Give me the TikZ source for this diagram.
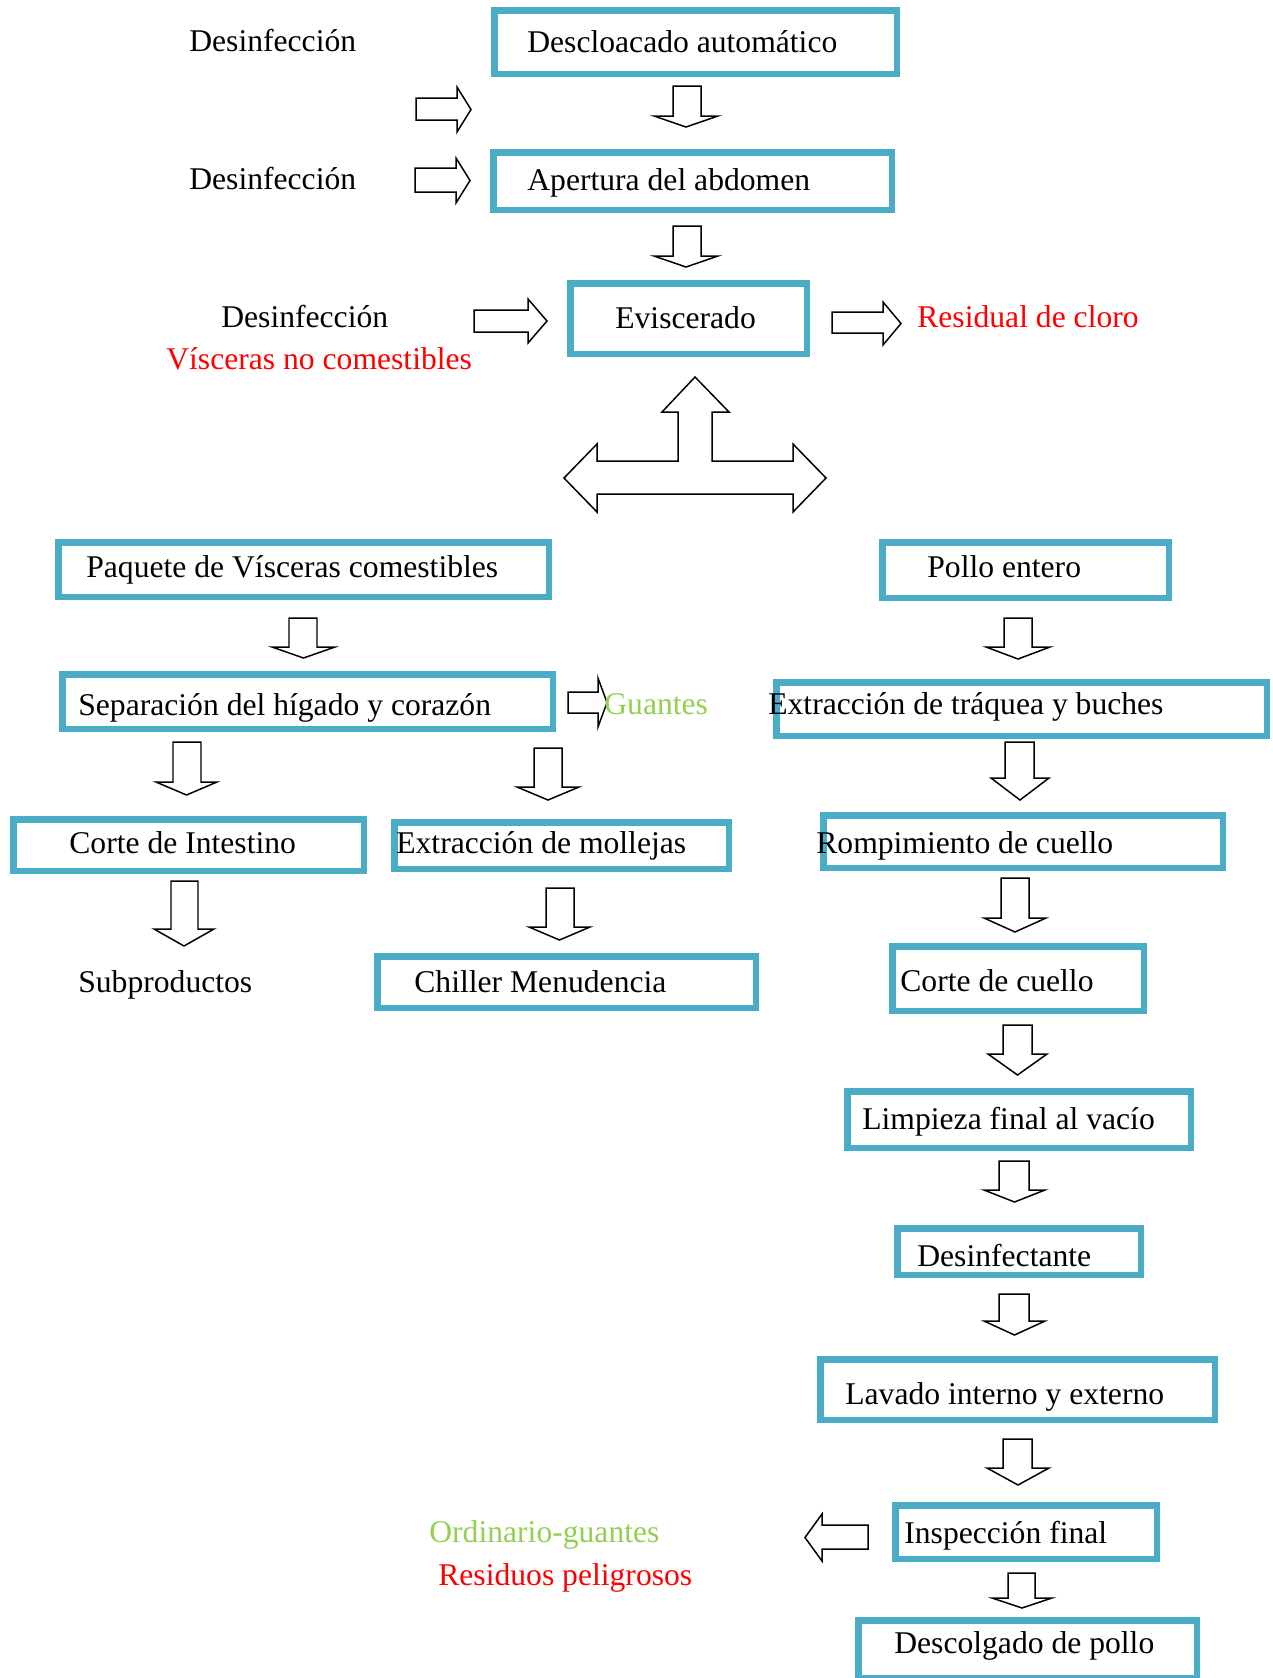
\documentclass[tikz,border=0pt]{standalone}
\usepackage{fontspec}
\setmainfont{Liberation Serif}
\begin{document}
\definecolor{boxteal}{HTML}{4BACC6}
\definecolor{okgreen}{HTML}{92D050}
\definecolor{alertred}{HTML}{FF0000}
\tikzset{
  stepbox/.style={draw=boxteal, line width=3.7pt, fill=white, inner sep=0pt},
  lbl/.style={inner sep=0pt, font=\fontsize{18}{21}\selectfont},
  blk/.style={draw=black, line width=0.85pt, fill=white, line join=miter},
}
% block arrow pointing down: x1 x2 (head), sx1 sx2 (shaft), ytop, yhead, ytip
\newcommand\darr[7]{\draw[blk] (#3,#5) -- (#4,#5) -- (#4,#6) -- (#2,#6) -- ({(#1+#2)/2},#7) -- (#1,#6) -- (#3,#6) -- cycle;}
% block arrow pointing right: xl xhead xtip ys1 ys2 yh1 yh2
\newcommand\rarr[7]{\draw[blk] (#1,#4) -- (#2,#4) -- (#2,#6) -- (#3,{(#6+#7)/2}) -- (#2,#7) -- (#2,#5) -- (#1,#5) -- cycle;}
% block arrow pointing left: xtip xhead xr ys1 ys2 yh1 yh2
\newcommand\larr[7]{\draw[blk] (#3,#4) -- (#2,#4) -- (#2,#6) -- (#1,{(#6+#7)/2}) -- (#2,#7) -- (#2,#5) -- (#3,#5) -- cycle;}
% process box: name, x1, y1, x2, y2 (outer edges), text x, text baseline, text
\newcommand\pbox[8]{%
  \node[stepbox, minimum width={(#4-#2-6.5)*0.02cm}, minimum height={(#5-#3-6.5)*0.02cm}] (#1) at ({(#2+#4)/2},{(#3+#5)/2}) {};
  \node[lbl, anchor=base west] (#1-t) at (#6,#7) {#8};}
\begin{tikzpicture}[x=0.02cm, y=-0.02cm]
\useasboundingbox (0,0) rectangle (1273,1678);

% main line
\pbox{desc}{491}{7}{900}{77}{527}{52}{Descloacado automático}
\pbox{aper}{490}{149}{895}{213}{527}{190}{Apertura del abdomen}
\pbox{evis}{567}{280}{810}{357}{615}{328}{Eviscerado}

\darr{654}{718}{673}{701}{86}{116}{127}
\darr{654}{718}{673}{701}{226}{256}{267}

\node[lbl, anchor=base west] (des1) at (189,51) {Desinfección};
\node[lbl, anchor=base west] (des2) at (189,189) {Desinfección};
\node[lbl, anchor=base west] (des3) at (221,327) {Desinfección};
\node[lbl, anchor=base west, text=alertred] (visc) at (166,369) {Vísceras no comestibles};
\node[lbl, anchor=base west, text=alertred] (clor) at (917,327) {Residual de cloro};

\rarr{416}{457}{471}{98}{120}{87}{132}
\rarr{415}{456}{470}{168}{192}{158}{203}
\rarr{474}{528}{547}{310}{332}{299}{343}
\rarr{832}{883}{901}{312}{333}{302}{345}

% three-way split arrow
\draw[blk] (695,377) -- (729,412) -- (712,412) -- (712,461) -- (793,461) -- (793,444)
  -- (826,478) -- (793,512) -- (793,494) -- (597,494) -- (597,512) -- (564,478)
  -- (597,444) -- (597,461) -- (678,461) -- (678,412) -- (662,412) -- cycle;

% edible viscera branch
\pbox{paq}{55}{539}{552}{600}{86}{577}{Paquete de Vísceras comestibles}
\pbox{sep}{59}{671}{556}{732}{78}{715}{Separación del hígado y corazón}
\pbox{cint}{10}{816}{367}{874}{69}{853}{Corte de Intestino}
\pbox{chil}{374}{953}{759}{1011}{414}{992}{Chiller Menudencia}
\pbox{moll}{391}{819}{732}{872}{396}{853}{Extracción de mollejas}
\node[lbl, anchor=base west] (subp) at (78,992) {Subproductos};

\darr{272}{335}{289}{317}{618}{647}{658}
\darr{156}{217}{173}{201}{742}{782}{795}
\darr{517}{579}{534}{562}{748}{787}{800}
\darr{154}{214}{171}{198}{881}{929}{946}
\darr{529}{590}{546}{574}{888}{927}{940}

\rarr{568}{598}{607}{692}{713}{678}{727}
\node[lbl, anchor=base west, text=okgreen] (guan) at (604,714) {Guantes};

% whole chicken branch
\pbox{pollo}{879}{539}{1172}{601}{927}{577}{Pollo entero}
\pbox{traq}{773}{679}{1270}{739}{768}{714}{Extracción de tráquea y buches}
\pbox{romp}{820}{812}{1226}{871}{816}{853}{Rompimiento de cuello}
\pbox{ccue}{889}{943}{1147}{1014}{900}{991}{Corte de cuello}
\pbox{limp}{844}{1088}{1194}{1151}{862}{1129}{Limpieza final al vacío}
\pbox{desf}{894}{1225}{1144}{1278}{917}{1266}{Desinfectante}
\pbox{lav}{817}{1356}{1218}{1423}{845}{1404}{Lavado interno y externo}
\pbox{insp}{892}{1502}{1160}{1562}{904}{1543}{Inspección final}
\pbox{descg}{855}{1617}{1200}{1681}{894}{1653}{Descolgado de pollo}

\darr{986}{1050}{1004}{1032}{618}{647}{659}
\darr{991}{1049}{1005}{1034}{742}{778}{800}
\darr{984}{1046}{1001}{1029}{878}{918}{932}
\darr{988}{1047}{1003}{1032}{1025}{1054}{1075}
\darr{984}{1045}{999}{1029}{1161}{1190}{1202}
\darr{984}{1045}{999}{1029}{1294}{1321}{1335}
\darr{987}{1049}{1003}{1032}{1439}{1468}{1485}
\darr{992}{1052}{1008}{1035}{1573}{1598}{1608}

\larr{805}{822}{868}{1525}{1549}{1514}{1561}
\node[lbl, anchor=base west, text=okgreen] (ordi) at (429,1542) {Ordinario-guantes};
\node[lbl, anchor=base west, text=alertred] (resi) at (438,1585) {Residuos peligrosos};
\end{tikzpicture}
\end{document}
